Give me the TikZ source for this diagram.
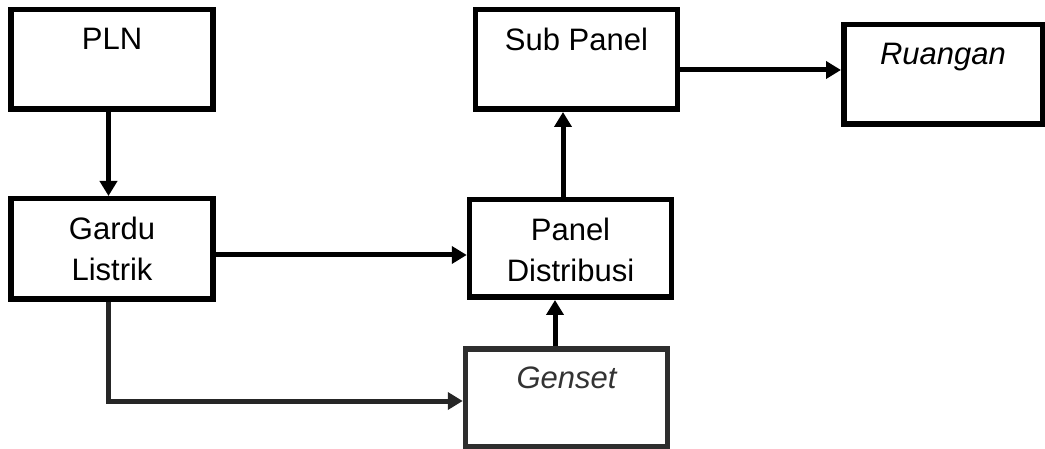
\documentclass[tikz,border=0pt]{standalone}
\usepackage{fontspec}
\setmainfont{Liberation Sans}
\usetikzlibrary{arrows.meta}
\begin{document}
\begin{tikzpicture}[x=1pt,y=-1pt,
  box/.style={draw=black, line width=5.5pt, inner sep=0pt, fill=white,
    minimum width=202pt, minimum height=99.5pt},
  lbl/.style={anchor=north, inner sep=0pt, align=center, yshift=-20.5pt,
    font=\fontsize{31}{41}\selectfont},
  arr/.style={line width=5pt, -{Triangle[width=17pt,length=15pt]}}]
\useasboundingbox (0,0) rectangle (1045,449);
\node[box, label={[lbl]north:PLN}] (PLN) at (112,59.5) {};
\node[box, minimum height=100.5pt, label={[lbl]north:{Gardu\\Listrik}}] (Gardu) at (112,249) {};
\node[box, label={[lbl]north:Sub Panel}] (Sub) at (576.5,59.5) {};
\node[box, minimum width=198.5pt, label={[lbl,font=\fontsize{31}{41}\selectfont\itshape]north:Ruangan}] (Ruang) at (943,74.5) {};
\node[box, minimum height=97.5pt, label={[lbl]north:{Panel\\Distribusi}}] (Panel) at (570.5,248.5) {};
\node[box, draw=black!82, minimum height=97.5pt, label={[lbl,text=black!80,font=\fontsize{31}{41}\selectfont\itshape]north:Genset}] (Genset) at (566.5,397.5) {};
\draw[arr] ([xshift=-3.5pt]PLN.south) -- ([xshift=-3.5pt]Gardu.north);
\draw[arr] ([yshift=-6pt]Gardu.east) -- ([yshift=-6pt]Gardu.east -| Panel.west);
\draw[arr, black!85] ([xshift=-4pt]Gardu.south) |- ([yshift=-3.5pt]Genset.west);
\draw[arr] ([xshift=-11.5pt]Genset.north) -- ([xshift=-11.5pt]Genset.north |- Panel.south);
\draw[arr] ([xshift=-7.5pt]Panel.north) -- ([xshift=-7.5pt]Panel.north |- Sub.south);
\draw[arr] ([yshift=-10.5pt]Sub.east) -- ([yshift=-10.5pt]Sub.east -| Ruang.west);
\end{tikzpicture}
\end{document}
